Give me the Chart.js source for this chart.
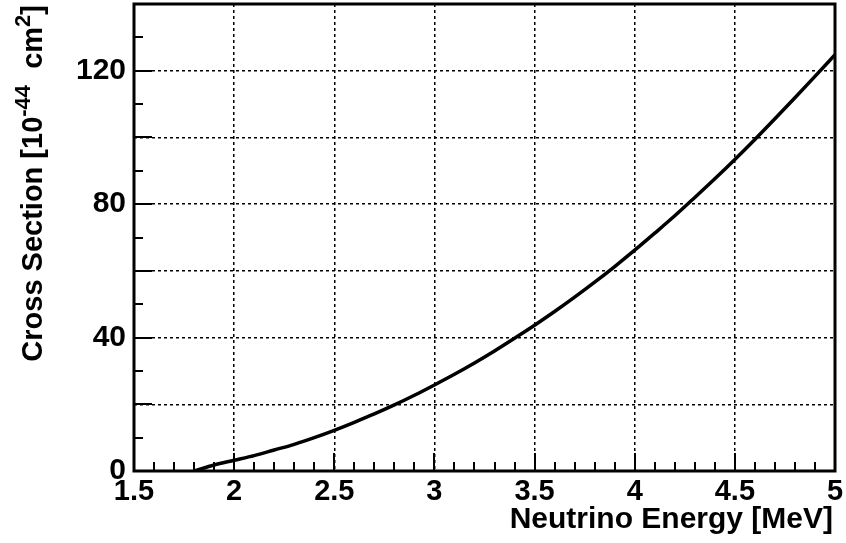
<!DOCTYPE html>
<html>
<head>
<meta charset="utf-8">
<script src="https://cdn.jsdelivr.net/npm/chart.js@4.4.1/dist/chart.umd.min.js"></script>
<style>
    html, body { margin: 0; padding: 0; background: #fff; }
</style>
</head>
<body>
<canvas id="xsecChart" width="846" height="543"></canvas>
<script>
// Neutrino energy [MeV]
const energies = [
    1.8, 1.9, 2.0, 2.1, 2.2, 2.3, 2.4, 2.5, 2.6, 2.7, 2.8,
    2.9, 3.0, 3.1, 3.2, 3.3, 3.4, 3.5, 3.6, 3.7, 3.8, 3.9,
    4.0, 4.1, 4.2, 4.3, 4.4, 4.5, 4.6, 4.7, 4.8, 4.9, 5.0,
];

// Cross section [10^-44 cm^2]
const crossSections = [
    0.0, 1.8, 3.2, 4.6, 6.3, 8.0, 10.0, 12.2, 14.6, 17.1, 19.8,
    22.7, 25.8, 29.0, 32.4, 36.0, 39.8, 43.7, 47.8, 52.1, 56.6, 61.3,
    66.2, 71.3, 76.5, 82.0, 87.6, 93.4, 99.4, 105.6, 111.9, 118.3, 124.8,
];

const xRange = [1.5, 5];
const yRange = [0, 140];
const xGridStep = 0.5;
const yGridStep = 20;
const yLabelStep = 40;
const xMinorStep = 0.1;
const yMinorStep = 10;

const FONT = "'Liberation Sans', Arial, Helvetica, sans-serif";

// ROOT-style frame, inward tick marks and axis titles
const rootFrame = {
    id: "rootFrame",
    afterDraw(chart) {
        const { ctx, chartArea: a, scales } = chart;
        const xs = scales.x;
        const ys = scales.y;
        ctx.save();
        ctx.strokeStyle = "#000";

        // tick marks, pointing into the frame
        ctx.lineWidth = 2;
        ctx.beginPath();
        const nx = Math.round((xRange[1] - xRange[0]) / xMinorStep);
        for (let i = 0; i <= nx; i++) {
            const v = xRange[0] + i * xMinorStep;
            const px = Math.round(xs.getPixelForValue(v));
            const major = i % Math.round(xGridStep / xMinorStep) === 0;
            ctx.moveTo(px, a.bottom);
            ctx.lineTo(px, a.bottom - (major ? 18 : 9));
        }
        const ny = Math.round((yRange[1] - yRange[0]) / yMinorStep);
        for (let i = 0; i <= ny; i++) {
            const v = yRange[0] + i * yMinorStep;
            const py = Math.round(ys.getPixelForValue(v));
            const major = i % Math.round(yGridStep / yMinorStep) === 0;
            ctx.moveTo(a.left, py);
            ctx.lineTo(a.left + (major ? 18 : 9), py);
        }
        ctx.stroke();

        // frame
        ctx.lineWidth = 3;
        ctx.strokeRect(a.left, a.top, a.right - a.left, a.bottom - a.top);

        // x title, right aligned
        ctx.fillStyle = "#000";
        ctx.font = "bold 30px " + FONT;
        ctx.textAlign = "right";
        ctx.textBaseline = "alphabetic";
        ctx.fillText("Neutrino Energy [MeV]", a.right - 2, 528);

        // y title, rotated, right aligned at the top
        const parts = [
            { t: "Cross Section [10", sup: false },
            { t: "-44", sup: true },
            { t: "  cm", sup: false },
            { t: "2", sup: true },
            { t: "]", sup: false },
        ];
        const big = "bold 29px " + FONT;
        const small = "bold 22px " + FONT;
        let total = 0;
        parts.forEach((p) => {
            ctx.font = p.sup ? small : big;
            p.w = ctx.measureText(p.t).width;
            total += p.w;
        });
        ctx.translate(42, a.top + 1);
        ctx.rotate(-Math.PI / 2);
        ctx.textAlign = "left";
        let x = -total;
        parts.forEach((p) => {
            ctx.font = p.sup ? small : big;
            ctx.fillText(p.t, x, p.sup ? -12 : 0);
            x += p.w;
        });
        ctx.restore();
    },
};

new Chart(document.getElementById("xsecChart").getContext("2d"), {
    type: "scatter",
    data: {
        datasets: [
            {
                data: energies.map((e, i) => ({ x: e, y: crossSections[i] })),
                showLine: true,
                borderColor: "#000",
                borderWidth: 3.5,
                pointRadius: 0,
                cubicInterpolationMode: "monotone",
                fill: false,
            },
        ],
    },
    options: {
        responsive: false,
        animation: false,
        events: [],
        layout: {
            padding: { top: 4, right: 11, left: 0, bottom: 0 },
        },
        plugins: {
            legend: { display: false },
            tooltip: { enabled: false },
        },
        scales: {
            x: {
                type: "linear",
                min: xRange[0],
                max: xRange[1],
                border: { display: false, dash: [3, 3] },
                grid: {
                    drawTicks: false,
                    lineWidth: 1.5,
                    color: (c) =>
                        c.tick && (c.tick.value === xRange[0] || c.tick.value === xRange[1])
                            ? "rgba(0,0,0,0)"
                            : "#000",
                },
                ticks: {
                    stepSize: xGridStep,
                    padding: 4,
                    color: "#000",
                    maxRotation: 0,
                    autoSkip: false,
                    font: { family: FONT, size: 29, weight: "bold" },
                    callback: (v) => String(v),
                },
                afterFit(scale) {
                    scale.height = 72;
                    scale.paddingLeft = 0;
                    scale.paddingRight = 0;
                },
            },
            y: {
                type: "linear",
                min: yRange[0],
                max: yRange[1],
                border: { display: false, dash: [3, 3] },
                grid: {
                    drawTicks: false,
                    lineWidth: 1.5,
                    color: (c) =>
                        c.tick && (c.tick.value === yRange[0] || c.tick.value === yRange[1])
                            ? "rgba(0,0,0,0)"
                            : "#000",
                },
                ticks: {
                    stepSize: yGridStep,
                    padding: 8,
                    color: "#000",
                    autoSkip: false,
                    font: { family: FONT, size: 30, weight: "bold" },
                    callback: (v) => (v % yLabelStep === 0 ? String(v) : ""),
                },
                afterFit(scale) {
                    scale.width = 134;
                    scale.paddingTop = 0;
                    scale.paddingBottom = 0;
                },
            },
        },
    },
    plugins: [rootFrame],
});
</script>
</body>
</html>
